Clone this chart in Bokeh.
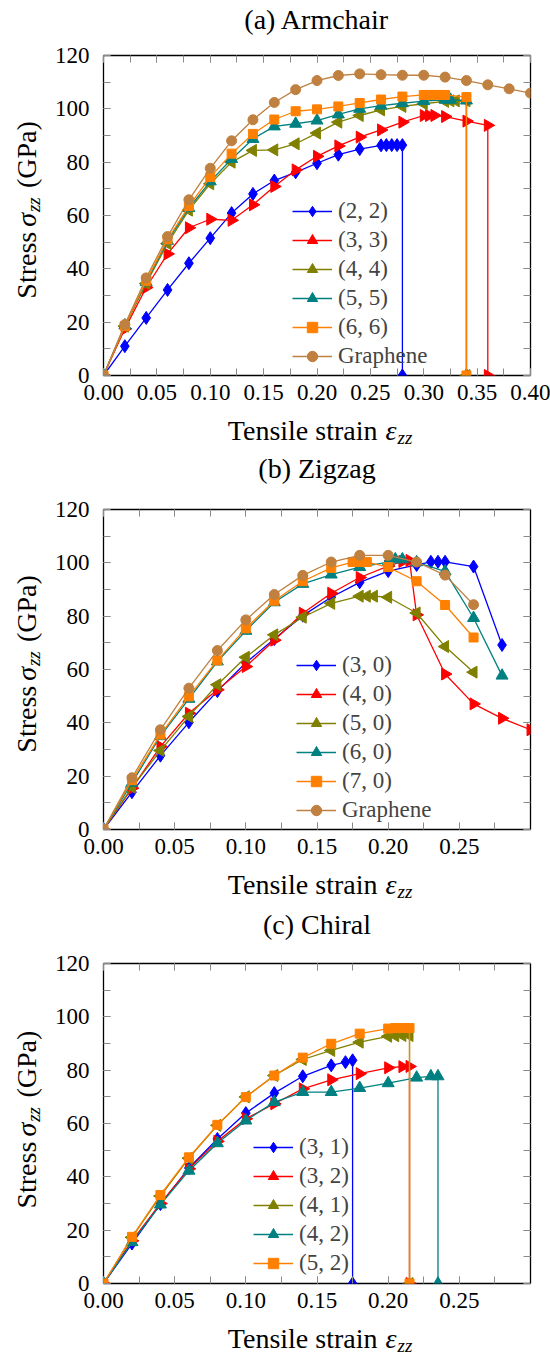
import math
from bokeh.plotting import figure
from bokeh.models import (Range1d, LinearAxis, SingleIntervalTicker, PrintfTickFormatter,
                          Legend, LegendItem, Grid)
from bokeh.layouts import column, row
from bokeh.core.properties import value
from bokeh.embed import file_html
from bokeh.resources import INLINE

FONT = "Liberation Serif"
BLUE, RED, OLIVE, TEAL, ORANGE, BROWN = "#0000ff", "#ff0000", "#808000", "#008080", "#ff8000", "#bf8040"

# ---------------- (a) Armchair ----------------
arm_labels = ["(2, 2)", "(3, 3)", "(4, 4)", "(5, 5)", "(6, 6)", "Graphene"]
arm_22_strain = [0, .02, .04, .06, .08, .10, .12, .14, .16, .18, .20, .22, .24, .26, .265, .27, .275, .28, .28]
arm_22_stress = [0, 11.0, 21.6, 32.1, 42.1, 51.5, 60.9, 68.1, 73.1, 76.2, 79.6, 82.8, 84.9, 86.3, 86.4, 86.4, 86.4, 86.4, 0]
arm_33_strain = [0, .02, .04, .06, .08, .10, .12, .14, .16, .18, .20, .22, .24, .26, .28, .30, .305, .31, .32, .34, .36, .36]
arm_33_stress = [0, 17.5, 33.0, 45.6, 55.4, 58.6, 58.2, 64.0, 70.9, 77.1, 82.2, 86.1, 89.4, 92.1, 95.0, 97.5, 97.5, 97.5, 97.1, 95.4, 93.8, 0]
arm_44_strain = [0, .02, .04, .06, .08, .10, .12, .14, .16, .18, .20, .22, .24, .26, .28, .30, .32, .325, .33, .34, .34]
arm_44_stress = [0, 18.5, 34.5, 49.5, 62.0, 71.9, 80.0, 84.4, 84.6, 86.9, 90.9, 95.0, 97.5, 99.6, 100.9, 101.9, 102.8, 103.0, 103.0, 103.0, 0]
arm_55_strain = [0, .02, .04, .06, .08, .10, .12, .14, .16, .18, .20, .22, .24, .26, .28, .30, .32, .325, .34, .34]
arm_55_stress = [0, 18.8, 35.0, 50.5, 62.8, 72.8, 81.2, 88.7, 93.4, 94.4, 95.6, 97.9, 100.0, 101.2, 102.1, 102.9, 103.4, 103.4, 103.1, 0]
arm_66_strain = [0, .02, .04, .06, .08, .10, .12, .14, .16, .18, .20, .22, .24, .26, .28, .30, .305, .31, .315, .32, .34, .34]
arm_66_stress = [0, 18.5, 35.5, 51.0, 63.5, 74.4, 83.2, 90.6, 96.0, 99.1, 99.8, 100.9, 102.2, 103.5, 104.6, 105.2, 105.2, 105.2, 105.2, 105.2, 104.4, 0]
arm_gr_strain = [0, .02, .04, .06, .08, .10, .12, .14, .16, .18, .20, .22, .24, .26, .28, .30, .32, .34, .36, .38, .40]
arm_gr_stress = [0, 19.1, 36.6, 52.1, 65.9, 77.7, 88.0, 95.9, 102.4, 107.2, 110.6, 112.5, 113.1, 112.8, 112.6, 112.6, 111.9, 110.6, 109.0, 107.5, 105.9]

# ---------------- (b) Zigzag ----------------
zig_labels = ["(3, 0)", "(4, 0)", "(5, 0)", "(6, 0)", "(7, 0)", "Graphene"]
zig_30_strain = [0, .02, .04, .06, .08, .10, .12, .14, .16, .18, .20, .22, .23, .235, .24, .26, .28]
zig_30_stress = [0, 14.0, 27.7, 40.2, 51.9, 62.5, 71.4, 80.2, 87.1, 92.7, 96.9, 99.2, 100.4, 100.4, 100.4, 98.6, 69.2]
zig_40_strain = [0, .02, .04, .06, .08, .10, .12, .14, .16, .18, .20, .21, .215, .22, .24, .26, .28, .30]
zig_40_stress = [0, 15.5, 31.1, 43.6, 52.4, 61.1, 71.0, 81.1, 88.6, 94.5, 98.8, 100.5, 100.9, 80.5, 58.3, 47.1, 41.7, 37.4]
zig_50_strain = [0, .02, .04, .06, .08, .10, .12, .14, .16, .18, .185, .19, .20, .22, .24, .26]
zig_50_stress = [0, 15.8, 29.6, 42.4, 54.3, 64.6, 73.0, 79.6, 84.8, 87.5, 87.5, 87.5, 87.1, 81.2, 68.6, 59.0]
zig_60_strain = [0, .02, .04, .06, .08, .10, .12, .14, .16, .18, .20, .205, .21, .22, .24, .26, .28]
zig_60_stress = [0, 17.5, 35.0, 49.0, 63.0, 74.5, 85.2, 92.1, 95.6, 98.4, 100.3, 101.3, 101.3, 100.2, 96.8, 79.3, 57.7]
zig_70_strain = [0, .02, .04, .06, .08, .10, .12, .14, .16, .175, .18, .185, .20, .22, .24, .26]
zig_70_stress = [0, 18.5, 35.6, 49.9, 63.4, 75.4, 85.8, 93.1, 98.1, 100.3, 100.3, 100.3, 98.4, 93.1, 84.2, 72.0]
zig_gr_strain = [0, .02, .04, .06, .08, .10, .12, .14, .16, .18, .20, .22, .24, .26]
zig_gr_stress = [0, 19.4, 37.4, 53.0, 67.1, 78.6, 88.1, 95.3, 100.3, 102.8, 102.8, 100.3, 95.4, 84.3]

# ---------------- (c) Chiral ----------------
chi_labels = ["(3, 1)", "(3, 2)", "(4, 1)", "(4, 2)", "(5, 2)"]
chi_31_strain = [0, .02, .04, .06, .08, .10, .12, .14, .16, .17, .175, .175]
chi_31_stress = [0, 15.0, 29.8, 43.3, 54.2, 63.9, 71.4, 77.7, 81.8, 83.0, 83.7, 0]
chi_32_strain = [0, .02, .04, .06, .08, .10, .12, .14, .16, .18, .20, .21, .215, .215]
chi_32_stress = [0, 16.0, 30.0, 43.0, 53.3, 61.8, 67.4, 73.0, 76.4, 78.7, 80.9, 81.3, 81.4, 0]
chi_41_strain = [0, .02, .04, .06, .08, .10, .12, .14, .16, .18, .20, .205, .21, .215, .215]
chi_41_stress = [0, 17.3, 32.8, 47.0, 59.3, 70.0, 78.0, 84.0, 87.4, 90.5, 92.7, 92.9, 93.0, 93.0, 0]
chi_42_strain = [0, .02, .04, .06, .08, .10, .12, .14, .16, .18, .20, .22, .23, .235, .235]
chi_42_stress = [0, 15.5, 29.6, 42.3, 52.6, 61.1, 68.0, 71.8, 71.8, 73.3, 75.1, 77.2, 77.7, 77.7, 0]
chi_52_strain = [0, .02, .04, .06, .08, .10, .12, .14, .16, .18, .20, .205, .21, .215, .215]
chi_52_stress = [0, 17.5, 33.2, 47.3, 59.5, 69.9, 78.0, 84.7, 89.9, 93.7, 95.6, 95.8, 95.8, 95.8, 0]

titles = ["(a) Armchair", "(b) Zigzag", "(c) Chiral"]
x_label_text = ["Tensile strain", "ε", "zz"]
y_label_text = ["Stress", "σ", "zz", "(GPa)"]

# marker styles: (marker, angle, size)
STYLES = [("diamond", 0.0, 13), ("triangle", -math.pi / 2, 12), ("triangle", math.pi / 2, 12),
          ("triangle", 0.0, 12), ("square", 0.0, 9), ("circle", 0.0, 10)]
COLORS = [BLUE, RED, OLIVE, TEAL, ORANGE, BROWN]

W = 550
W_YLAB = 48
MAIN_W = W - W_YLAB
BIG, SMALL = 28, 19
# distance between the alphabetic baseline and the vertical middle of the font box
MID = 0.3375


def drop_grids(f):
    f.center = [c for c in f.center if not isinstance(c, Grid)]


def style_axis(ax, show_labels, fmt=None, standoff=0):
    ax.axis_line_color = None
    ax.major_tick_in = 7
    ax.major_tick_out = 0
    ax.minor_tick_in = 7
    ax.minor_tick_out = 0
    ax.major_tick_line_color = "#8a8a8a"
    ax.minor_tick_line_color = "#8a8a8a"
    ax.major_tick_line_width = 1
    ax.minor_tick_line_width = 1
    if show_labels:
        ax.formatter = PrintfTickFormatter(format=fmt)
        ax.major_label_text_font = FONT
        ax.major_label_text_font_size = "23px"
        ax.major_label_text_color = "black"
        ax.major_label_standoff = standoff
    else:
        ax.major_label_text_color = None
        ax.major_label_text_font_size = "1px"
        ax.major_label_standoff = 0


def text_fig(w, h):
    f = figure(width=w, height=h, x_range=Range1d(0, w), y_range=Range1d(0, h),
               output_backend="svg", toolbar_location=None, min_border=0, title=None,
               x_axis_location=None, y_axis_location=None, outline_line_color=None)
    drop_grids(f)
    f.background_fill_color = "white"
    f.border_fill_color = "white"
    return f


def put(f, x, y, txt, size, align, italic=False, angle=0.0):
    # (x, y) is the baseline anchor; convert to the middle of the font box
    d = MID * size
    if angle == 0.0:
        ax_, ay_ = x, y + d
    else:
        ax_, ay_ = x - d, y
    f.text(x=[ax_], y=[ay_], text=[txt], angle=angle, text_font=value(FONT),
           text_font_size=value(f"{size}px"), text_font_style="italic" if italic else "normal",
           text_align=align, text_baseline="middle", text_color="black")


def add_title(f, text, y):
    put(f, 316.5, y, text, BIG, "center")


def add_xlabel(f, y):
    J = 396
    put(f, J - 19, y, x_label_text[0], BIG, "right")
    put(f, J, y, x_label_text[1], BIG, "right", italic=True)
    put(f, J + 1, y - 4, x_label_text[2], SMALL, "left", italic=True)


def ylabel_fig(h):
    yf = text_fig(W_YLAB, h)
    J1, xb = h - 184, 35
    a = math.pi / 2
    put(yf, xb, J1 - 22, y_label_text[0], BIG, "right", angle=a)
    put(yf, xb, J1, y_label_text[1], BIG, "right", italic=True, angle=a)
    put(yf, xb + 4, J1 + 1, y_label_text[2], SMALL, "left", italic=True, angle=a)
    put(yf, xb, J1 + 29, y_label_text[3], BIG, "left", angle=a)
    return yf


def make_main(h, border_bottom, xmax, series, labels, legend_xy):
    p = figure(width=MAIN_W, height=h, x_range=Range1d(0, xmax), y_range=Range1d(0, 120),
               output_backend="svg", toolbar_location=None, title=None,
               x_axis_location=None, y_axis_location=None,
               min_border_left=55, min_border_right=20, min_border_top=14,
               min_border_bottom=border_bottom)
    drop_grids(p)
    p.outline_line_color = "black"
    p.outline_line_width = 1.3
    p.background_fill_color = "white"
    p.border_fill_color = "white"

    bottom = LinearAxis(ticker=SingleIntervalTicker(interval=0.05, num_minor_ticks=2))
    top = LinearAxis(ticker=SingleIntervalTicker(interval=0.05, num_minor_ticks=2))
    left = LinearAxis(ticker=SingleIntervalTicker(interval=20, num_minor_ticks=2))
    right = LinearAxis(ticker=SingleIntervalTicker(interval=20, num_minor_ticks=2))
    style_axis(bottom, True, "%.2f", 9)
    style_axis(left, True, "%d", 14)
    style_axis(top, False)
    style_axis(right, False)
    p.add_layout(bottom, "below")
    p.add_layout(left, "left")
    p.add_layout(top, "above")
    p.add_layout(right, "right")

    items = []
    for i, (xs, ys) in enumerate(series):
        c = COLORS[i]
        marker, ang, sz = STYLES[i]
        r1 = p.line(xs, ys, line_color=c, line_width=1.3)
        r2 = p.scatter(xs, ys, marker=marker, angle=ang, size=sz, fill_color=c, line_color=c, line_width=1)
        items.append(LegendItem(label=labels[i], renderers=[r1, r2]))

    leg = Legend(items=items, location=legend_xy, border_line_color=None, background_fill_alpha=0,
                 padding=0, margin=0, spacing=3, glyph_width=40, glyph_height=26, label_height=26,
                 label_standoff=6, label_text_font=FONT, label_text_font_size="23px")
    p.add_layout(leg, "center")
    return p


main_a = make_main(374, 40, 0.40,
                   [(arm_22_strain, arm_22_stress), (arm_33_strain, arm_33_stress),
                    (arm_44_strain, arm_44_stress), (arm_55_strain, arm_55_stress),
                    (arm_66_strain, arm_66_stress), (arm_gr_strain, arm_gr_stress)],
                   arm_labels, (189, 6))
main_b = make_main(374, 40, 0.30,
                   [(zig_30_strain, zig_30_stress), (zig_40_strain, zig_40_stress),
                    (zig_50_strain, zig_50_stress), (zig_60_strain, zig_60_stress),
                    (zig_70_strain, zig_70_stress), (zig_gr_strain, zig_gr_stress)],
                   zig_labels, (193, 6))
main_c = make_main(370, 36, 0.30,
                   [(chi_31_strain, chi_31_stress), (chi_32_strain, chi_32_stress),
                    (chi_41_strain, chi_41_stress), (chi_42_strain, chi_42_stress),
                    (chi_52_strain, chi_52_stress)],
                   chi_labels, (150, 7))

# text strips between the plots (baseline positions measured from each strip's bottom)
s0 = text_fig(W, 41)
add_title(s0, titles[0], 41 - 28)
s1 = text_fig(W, 80)
add_xlabel(s1, 80 - 24)
add_title(s1, titles[1], 80 - 62)
s2 = text_fig(W, 80)
add_xlabel(s2, 80 - 24)
add_title(s2, titles[2], 80 - 64)
s3 = text_fig(W, 37)
add_xlabel(s3, 37 - 28)

layout = column(s0, row(ylabel_fig(374), main_a, spacing=0), s1,
                row(ylabel_fig(374), main_b, spacing=0), s2,
                row(ylabel_fig(370), main_c, spacing=0), s3, spacing=0)
open("out.html", "w").write(file_html(layout, INLINE))
